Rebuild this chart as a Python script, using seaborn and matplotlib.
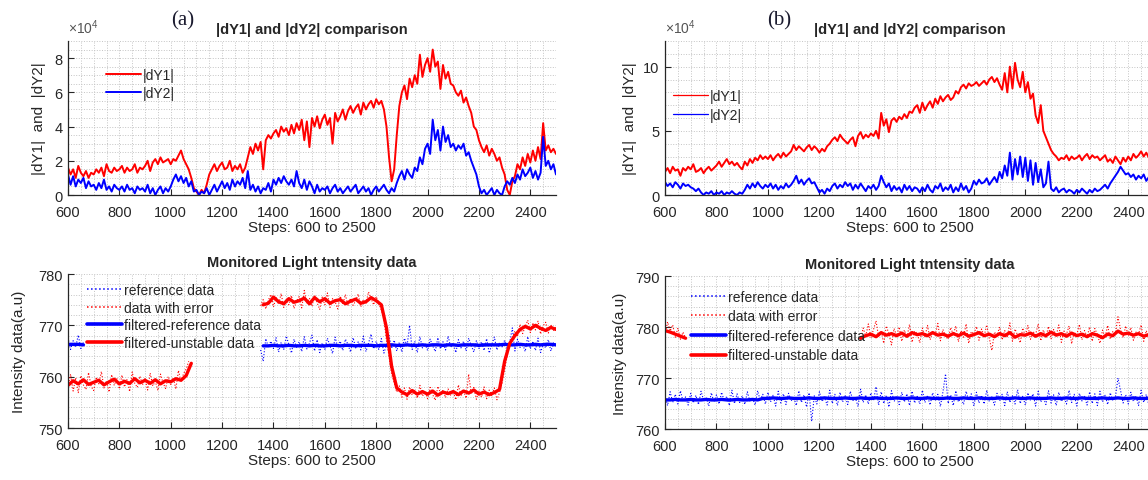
import numpy as np
import matplotlib
matplotlib.use("Agg")
import matplotlib.pyplot as plt
from matplotlib.lines import Line2D
from matplotlib.ticker import MultipleLocator
import seaborn as sns

nan = np.nan

# step axis
steps = np.arange(600, 2501, 10)     # raw / |dY| samples
steps_f = np.arange(600, 2501, 20)   # filtered curves

# ---------- (a) top: |dY1|, |dY2| in units of 1e4 ----------
dy1_a = [1.6, 1.2, 1.5, 1.0, 1.7, 1.3, 1.1, 1.4, 1.0, 1.3,
         1.2, 1.5, 1.3, 1.6, 1.1, 1.8, 1.4, 1.3, 1.6, 1.4,
         1.5, 1.7, 1.3, 1.6, 1.4, 1.5, 1.8, 1.3, 1.6, 1.5,
         1.7, 2.0, 1.4, 1.9, 2.1, 1.8, 2.2, 1.9, 2.0, 2.1,
         1.8, 2.1, 2.0, 2.3, 2.6, 2.1, 1.8, 1.5, 1.0, 0.4,
         0.2, 0.0, 0.3, 0.1, 0.6, 1.2, 1.5, 1.8, 1.4, 1.7,
         1.9, 1.5, 1.6, 2.0, 1.4, 1.7, 1.5, 1.8, 1.3, 1.6,
         2.2, 2.8, 2.4, 3.0, 2.6, 3.1, 1.5, 3.2, 3.5, 3.3,
         3.6, 3.8, 3.4, 4.0, 3.7, 3.9, 3.5, 4.1, 3.6, 4.2,
         3.8, 4.4, 3.2, 4.3, 2.8, 4.5, 4.0, 4.6, 3.9, 4.4,
         4.7, 4.1, 4.5, 3.0, 4.8, 4.3, 4.6, 5.0, 4.4, 4.9,
         5.2, 4.8, 5.1, 5.3, 4.7, 5.4, 5.0, 5.3, 5.5, 5.1,
         5.6, 5.3, 5.5, 5.0, 4.0, 2.2, 0.8, 1.5, 3.5, 5.2,
         6.0, 6.4, 5.6, 6.8, 6.3, 7.0, 6.5, 8.2, 6.9, 7.6,
         8.0, 7.2, 8.5, 7.5, 7.8, 6.2, 7.6, 6.8, 7.2, 6.5,
         6.4, 6.0, 5.8, 6.1, 5.4, 5.7, 5.2, 4.8, 4.0, 3.8,
         3.2, 2.8, 2.5, 2.9, 2.3, 2.7, 2.4, 2.0, 2.2, 1.6,
         1.2, 0.3, 0.0, 0.8, 1.1, 1.8, 1.5, 2.2, 1.7, 2.4,
         1.9, 2.6, 2.0, 2.8, 2.1, 4.2, 2.6, 2.9, 2.5, 2.7,
         2.4]
dy2_a = [1.2, 0.6, 1.1, 0.5, 0.9, 0.7, 1.0, 0.4, 0.8, 0.5,
         0.6, 0.3, 0.7, 0.4, 0.9, 0.3, 0.5, 0.2, 0.6, 0.4,
         0.3, 0.5, 0.2, 0.6, 0.3, 0.4, 0.1, 0.5, 0.3, 0.4,
         0.2, 0.6, 0.1, 0.4, 0.0, 0.3, 0.5, 0.1, 0.4, 0.2,
         0.5, 0.9, 1.2, 0.8, 1.1, 0.7, 1.0, 0.5, 0.8, 0.2,
         0.3, 0.0, 0.2, 0.1, 0.4, 0.0, 0.3, 0.6, 0.2, 0.5,
         0.8, 0.4, 0.7, 0.3, 0.9, 0.5, 0.8, 0.6, 1.0, 0.4,
         1.4, 0.3, 0.6, 0.2, 0.5, 0.1, 0.4, 0.3, 0.7, 0.2,
         0.9, 0.6, 1.0, 0.7, 1.1, 0.8, 0.6, 0.9, 0.5, 1.4,
         0.7, 0.4, 0.9, 0.3, 0.8, 0.5, 0.1, 0.6, 0.2, 0.4,
         0.3, 0.5, 0.1, 0.4, 0.6, 0.2, 0.4, 0.1, 0.3, 0.5,
         0.2, 0.4, 0.6, 0.1, 0.3, 0.5, 0.2, 0.4, 0.0, 0.3,
         0.5, 0.2, 0.4, 0.6, 0.3, 0.1, 0.4, 0.2, 0.7, 1.1,
         1.4, 0.9, 1.5, 1.2, 1.0, 1.6, 1.4, 2.2, 1.8, 2.7,
         3.0, 2.4, 4.4, 3.2, 3.8, 2.6, 4.0, 3.1, 3.5, 2.8,
         3.0, 2.6, 2.9, 2.7, 3.0, 2.3, 2.5, 2.0, 1.6, 1.2,
         0.5, 0.1, 0.3, 0.0, 0.2, 0.4, 0.0, 0.3, 0.1, 0.0,
         0.5, 0.8, 0.6, 1.0, 0.7, 1.2, 0.9, 1.5, 1.1, 1.3,
         1.6, 1.0, 1.4, 0.9, 1.3, 3.4, 1.7, 2.0, 1.5, 1.8,
         1.2]

# ---------- (b) top ----------
dy1_b = [1.8, 2.1, 1.7, 2.2, 1.9, 2.0, 1.5, 2.1, 1.9, 2.2,
         2.0, 2.4, 1.8, 1.9, 2.1, 1.7, 2.0, 2.2, 1.9, 2.1,
         2.3, 2.6, 2.2, 2.5, 2.8, 2.4, 2.6, 2.3, 2.5, 2.2,
         2.0, 2.6, 2.3, 2.8, 2.5, 2.9, 2.7, 3.1, 2.8, 3.0,
         2.8, 3.1, 2.7, 3.0, 3.2, 2.9, 3.3, 3.0, 3.2, 3.4,
         3.9, 3.5, 3.8, 3.6, 3.4, 3.7, 3.9, 3.5, 3.8, 3.6,
         3.3, 3.6, 3.4, 3.8, 4.0, 4.3, 4.5, 4.2, 4.7, 4.4,
         4.2, 4.0, 4.3, 4.5, 3.8, 4.6, 4.9, 4.4, 4.7, 4.5,
         4.8, 4.6, 5.0, 4.4, 6.4, 5.4, 5.9, 4.9, 5.8, 6.0,
         5.7, 6.1, 5.9, 6.3, 6.0, 6.5, 6.4, 6.8, 7.0, 6.4,
         7.2, 6.6, 7.0, 7.3, 6.8, 7.5, 7.1, 7.7, 7.3, 7.6,
         7.8, 7.4, 7.6, 8.1, 7.9, 8.4, 8.6, 8.3, 8.7, 8.5,
         8.6, 8.8, 8.5, 8.7, 8.9, 8.6, 9.0, 9.2, 8.8, 9.1,
         8.6, 8.2, 9.5, 8.0, 10.0, 8.3, 10.3, 9.0, 8.4, 9.6,
         8.0, 8.8, 7.5, 7.9, 6.2, 5.6, 7.0, 5.0, 4.5, 4.0,
         3.5, 3.2, 3.0, 2.7, 2.9, 2.8, 3.1, 2.7, 3.0, 2.8,
         2.9, 3.1, 2.7, 3.0, 3.2, 2.8, 3.1, 2.9, 3.0, 2.7,
         2.9, 3.1, 2.6, 2.8, 2.5, 3.0, 2.7, 2.4, 2.9, 2.6,
         3.0, 2.7, 3.2, 2.9, 3.1, 3.4, 3.0, 3.3, 2.9, 3.2,
         3.0]
dy2_b = [1.0, 0.7, 0.9, 0.6, 1.0, 0.8, 0.5, 0.9, 0.7, 0.8,
         0.6, 0.5, 0.3, 0.5, 0.2, 0.0, 0.2, 0.1, 0.3, 0.0,
         0.2, 0.1, 0.3, 0.0, 0.2, 0.1, 0.3, 0.1, 0.0, 0.2,
         0.1, 0.4, 0.8, 0.5, 0.9, 0.6, 1.0, 0.7, 0.5, 0.8,
         0.6, 0.9, 0.5, 0.8, 0.4, 0.7, 0.5, 0.9, 0.6, 0.8,
         1.1, 1.5, 0.9, 1.2, 0.8, 1.1, 1.3, 0.9, 1.0, 0.6,
         0.2, 0.4, 0.1, 0.5, 0.3, 0.7, 0.9, 0.5, 0.8, 0.6,
         1.0, 0.7, 0.9, 0.4, 0.8, 0.5, 0.9, 0.6, 0.3, 0.7,
         0.5, 0.8, 0.4, 0.7, 1.5, 1.0, 0.6, 0.9, 0.3, 0.7,
         0.4, 0.6, 0.2, 0.8, 0.4, 0.7, 0.3, 0.6, 0.5, 0.2,
         0.6, 0.3, 0.8, 0.4, 0.2, 0.7, 0.5, 0.9, 0.3, 0.6,
         0.4, 0.8, 0.2, 0.6, 0.3, 0.9, 0.4, 0.7, 0.2, 0.5,
         1.1, 0.8, 1.2, 0.9, 1.0, 1.3, 0.8, 1.1, 1.4, 1.0,
         1.8, 1.3, 2.3, 1.5, 3.3, 1.2, 2.8, 1.6, 3.0, 1.4,
         2.9, 1.1, 2.7, 0.8, 2.5, 1.0, 2.0, 0.6, 0.9, 2.6,
         0.5, 0.3, 0.6, 0.2, 0.4, 0.5, 0.2, 0.4, 0.3, 0.1,
         0.4, 0.2, 0.5, 0.3, 0.1, 0.4, 0.2, 0.5, 0.3, 0.4,
         0.6, 0.8, 0.5, 0.9, 1.2, 1.5, 1.8, 2.2, 1.9, 1.6,
         1.7, 1.4, 1.6, 1.2, 1.5, 1.3, 1.6, 1.1, 1.4, 1.2,
         1.3]

# ---------- (a) bottom: light intensity (a.u) ----------
ref_raw_a = ([767.6, 765.3, 767.0, 765.8, 768.1, 765.5, 766.7] + [nan] * 68 +
             [765.2, 763.0, 767.4, 765.8, 766.9,
              765.5, 767.6, 764.8, 766.7, 765.3, 767.9, 766.2, 764.6, 767.3, 765.7,
              766.8, 764.9, 767.8, 765.4, 766.5, 768.1, 765.0, 767.2, 764.7, 766.6,
              765.3, 767.5, 766.0, 764.5, 767.7, 765.8, 766.9, 765.1, 767.3, 766.3,
              764.8, 767.6, 765.6, 766.8, 765.2, 767.9, 764.9, 766.5, 768.3, 765.4,
              766.9, 765.3, 767.4, 764.6, 766.2, 768.0, 765.5, 767.1, 765.0, 766.7,
              764.8, 767.5, 765.9, 770.0, 765.3, 766.9, 764.7, 767.8, 765.6, 766.4,
              765.1, 767.3, 766.0, 764.9, 767.6, 765.4, 766.8, 765.2, 767.9, 765.7,
              766.5, 764.7, 767.2, 765.6, 766.9, 765.0, 767.5, 766.1, 764.8, 767.0,
              765.5, 766.8, 765.1, 767.4, 764.6, 766.3, 767.7, 765.2, 766.6, 765.8,
              767.1, 765.3, 766.7, 769.5, 765.0, 767.3, 765.7, 766.4, 764.9, 767.8,
              765.4, 766.9, 765.1, 767.5, 764.7, 766.3, 765.6, 767.2, 765.0, 766.6,
              765.8])
err_raw_a = ([758.0, 760.5, 757.2, 759.8, 756.9, 760.2, 758.4, 757.5, 760.8, 758.1,
              757.3, 759.9, 758.6, 761.0, 757.8, 759.2, 757.0, 760.4, 758.3, 759.7,
              757.6, 760.3, 758.0, 759.5, 757.1, 760.9, 758.7, 757.9, 760.1, 758.4,
              759.6, 757.4, 760.7, 758.2, 759.1, 757.3, 760.5, 758.8, 757.7, 760.0,
              758.5, 759.8, 757.6, 761.2, 759.0, 760.6, 761.5, 763.0] + [nan] * 27 +
             [773.8, 775.0, 773.2, 774.9, 776.0,
              773.6, 775.4, 774.1, 776.2, 773.5, 775.1, 774.0, 775.8, 773.3, 774.7,
              775.6, 773.4, 776.8, 774.2, 775.3, 773.7, 775.9, 774.4, 773.1, 775.5,
              774.0, 776.3, 773.5, 775.2, 774.6, 773.2, 775.7, 774.1, 776.0, 773.8,
              775.3, 773.9, 774.8, 776.1, 773.6, 775.0, 774.3, 776.5, 775.2, 774.0,
              775.6, 774.2, 773.0, 771.2, 767.0, 764.0, 760.5, 758.8, 757.0, 758.2,
              756.0, 757.8, 755.6, 758.0, 756.4, 757.5, 755.8, 758.3, 756.2, 757.1,
              755.7, 757.9, 756.5, 755.4, 758.1, 756.8, 757.3, 755.9, 757.6, 756.3,
              757.0, 755.5, 758.4, 756.2, 757.3, 755.8, 760.5, 756.6, 757.9, 755.6,
              757.2, 756.0, 758.0, 755.7, 757.4, 756.3, 757.8, 755.5, 756.9, 758.7,
              761.5, 764.0, 766.8, 767.5, 768.9, 767.8, 770.2, 768.4, 769.7, 771.0,
              768.6, 770.5, 769.1, 770.8, 768.3, 769.9, 770.6, 768.5, 770.1, 769.0,
              769.8])
ref_filt_a = ([766.3, 766.3, 766.3, 766.2] + [nan] * 34 +
              [766.0, 766.0, 766.1, 766.0, 766.0, 766.1, 766.0, 766.0, 766.1, 766.0,
               766.1, 766.0, 766.0, 766.1, 766.1, 766.0, 766.1, 766.1, 766.0, 766.1,
               766.1, 766.1, 766.0, 766.1, 766.1, 766.2, 766.1, 766.1, 766.2, 766.1,
               766.1, 766.2, 766.1, 766.2, 766.2, 766.1, 766.2, 766.2, 766.1, 766.2,
               766.2, 766.2, 766.1, 766.2, 766.2, 766.2, 766.2, 766.3, 766.2, 766.2,
               766.3, 766.2, 766.2, 766.3, 766.2, 766.3, 766.3, 766.2])
unst_filt_a = ([758.3, 759.2, 758.6, 759.4, 758.5,
                758.9, 759.3, 758.4, 759.0, 759.5,
                758.6, 759.1, 758.7, 759.6, 758.8,
                759.3, 758.7, 759.4, 758.6, 759.2,
                759.0, 759.6, 759.3, 760.2, 762.6] + [nan] * 13 +
               [774.0, 774.3,
                775.5, 774.6, 774.2, 775.2, 774.5,
                774.8, 775.3, 774.2, 775.4, 774.6,
                775.2, 774.3, 774.8, 775.0, 774.2,
                774.7, 775.1, 774.3, 774.6, 775.4,
                774.8, 774.0, 769.5, 762.0, 757.8,
                757.0, 756.5, 757.3, 756.6, 757.1,
                756.6, 757.2, 756.4, 757.0, 756.7,
                757.1, 756.5, 757.2, 756.8, 757.4,
                756.6, 757.0, 756.5, 756.9, 757.5,
                763.0, 766.5, 768.0, 769.2, 769.8,
                769.3, 770.0, 769.4, 769.0, 769.6,
                769.2])

# ---------- (b) bottom ----------
ref_raw_b = [766.5, 764.6, 767.3, 765.2, 766.8, 764.9, 767.5, 765.4, 766.3, 764.7,
             767.0, 765.1, 766.6, 764.8, 767.4, 765.6, 766.2, 764.5, 767.1, 765.3,
             766.7, 764.9, 767.2, 765.5, 766.4, 764.6, 767.6, 765.0, 766.9, 765.2,
             766.5, 764.8, 767.3, 765.4, 766.1, 764.7, 767.5, 765.6, 766.8, 764.9,
             767.2, 765.3, 766.6, 764.5, 767.4, 765.1, 766.9, 764.8, 767.0, 765.5,
             766.3, 764.6, 767.5, 765.2, 766.7, 764.3, 767.1, 761.5, 766.5, 764.9,
             767.3, 765.4, 766.2, 764.7, 767.6, 765.0, 766.8, 764.6, 767.2, 765.3,
             766.5, 764.8, 767.4, 765.6, 766.1, 764.4, 767.8, 765.2, 766.7, 764.9,
             767.1, 765.5, 768.3, 764.7, 767.3, 765.0, 766.6, 764.3, 767.5, 765.4,
             766.2, 764.8, 767.2, 765.3, 766.9, 764.6, 767.4, 765.1, 766.4, 764.9,
             767.6, 765.2, 766.5, 764.7, 767.1, 765.5, 766.8, 764.4, 767.3, 770.8,
             765.0, 766.7, 764.6, 767.5, 765.3, 766.2, 764.8, 767.4, 765.6, 766.9,
             764.5, 767.2, 765.1, 766.6, 764.9, 767.6, 765.4, 766.3, 764.7, 767.0,
             765.5, 766.8, 764.6, 767.3, 765.2, 766.5, 764.9, 767.7, 765.0, 766.4,
             764.7, 767.1, 765.6, 766.9, 764.5, 767.4, 765.3, 766.2, 764.8, 767.5,
             765.1, 766.7, 764.6, 767.2, 765.4, 766.3, 764.9, 767.6, 765.2, 766.8,
             764.5, 767.0, 765.5, 766.4, 764.7, 767.3, 765.0, 766.9, 764.6, 767.4,
             765.3, 766.6, 764.8, 767.1, 765.6, 766.2, 770.0, 767.5, 765.1, 766.7,
             764.9, 767.2, 765.4, 766.5, 764.6, 767.6, 765.2, 766.8, 764.7, 767.0,
             765.5]
err_raw_b = ([778.5, 781.0, 779.2, 780.4, 778.0, 779.8, 777.6, 779.0, 777.8] + [nan] * 67 +
             [777.5, 779.8, 778.2, 780.6,
              777.9, 779.5, 781.2, 778.0, 779.1, 776.8, 780.2, 778.6, 776.5, 779.7,
              778.3, 780.0, 777.2, 779.4, 778.0, 780.5, 777.0, 779.2, 778.7, 776.9,
              779.8, 778.1, 780.3, 777.5, 779.0, 778.4, 780.7, 777.3, 779.5, 778.2,
              777.6, 779.9, 778.5, 780.2, 777.1, 779.3, 778.0, 780.6, 776.8, 779.1,
              778.6, 780.1, 777.4, 779.6, 778.2, 780.4, 777.8, 775.4, 779.0, 778.3,
              780.0, 777.5, 779.3, 778.1, 780.8, 777.2, 779.6, 778.4, 776.9, 779.8,
              778.2, 780.3, 777.6, 779.1, 778.5, 780.6, 777.3, 779.4, 778.0, 780.1,
              777.7, 779.5, 778.3, 780.4, 777.0, 779.2, 778.6, 780.2, 776.7, 779.0,
              778.4, 780.5, 777.5, 779.3, 778.1, 780.0, 777.2, 779.7, 778.5, 776.8,
              779.4, 778.0, 780.3, 777.6, 779.1, 778.7, 782.0, 779.5, 777.9, 780.2,
              778.3, 779.9, 777.4, 779.0, 778.6, 780.4, 777.2, 779.3, 777.8, 779.6,
              778.0])
ref_filt_b = [765.7, 765.7, 765.8, 765.7, 765.7, 765.8, 765.7, 765.7, 765.8, 765.7,
              765.7, 765.8, 765.7, 765.7, 765.8, 765.7, 765.7, 765.8, 765.7,
              766.0, 766.0, 766.1, 766.0, 766.0, 766.1, 766.0, 766.0, 766.0, 766.1,
              766.0, 766.0, 766.1, 766.0, 766.0, 766.0, 766.1, 766.0, 766.0, 766.1,
              766.0, 766.0, 766.1, 766.0, 766.0, 766.0, 766.1, 766.0, 766.0, 766.1,
              766.0, 766.0, 766.1, 766.0, 766.0, 766.0, 766.1, 766.0, 766.0, 766.1,
              766.0, 766.0, 766.1, 766.0, 766.0, 766.0, 766.1, 766.0, 766.0, 766.1,
              766.0, 766.0, 766.1, 766.0, 766.0, 766.0, 766.1, 766.0, 766.0, 766.1,
              766.0, 766.0, 766.1, 766.0, 766.0, 766.0, 766.1, 766.0, 766.0, 766.1,
              766.0, 766.0, 766.1, 766.0, 766.0, 766.0, 766.1]
unst_filt_b = ([779.3, 779.0, 778.6, 778.2, 777.8] + [nan] * 33 +
               [777.8, 778.3,
                778.6, 778.1, 778.9, 778.4, 778.7,
                778.3, 778.8, 778.2, 778.9, 778.5,
                778.7, 778.3, 778.9, 778.4, 778.6,
                778.2, 778.7, 778.3, 778.8, 778.2,
                778.5, 778.9, 778.3, 778.6, 778.1,
                778.7, 778.3, 778.9, 778.0, 778.5,
                778.4, 778.8, 778.2, 778.7, 778.3,
                779.0, 778.4, 778.7, 778.2, 778.8,
                778.3, 778.6, 778.1, 778.7, 778.4,
                777.9, 778.6, 778.3, 779.2, 778.6,
                778.8, 778.4, 778.7, 778.2, 778.5,
                778.3])

RED = "#ff0000"
BLUE = "#0000ff"
INK = "#262626"

sns.set_theme(style="white")
plt.rcParams["font.family"] = ["Liberation Sans", "DejaVu Sans"]
plt.rcParams["mathtext.fontset"] = "custom"
plt.rcParams["mathtext.rm"] = "Liberation Sans"
plt.rcParams["mathtext.it"] = "Liberation Sans"


def draw(ax, x, y, color, lw, ls="-"):
    # seaborn line per contiguous run, gaps (nan) left open
    x = np.asarray(x)
    y = np.asarray(y, dtype=float)
    idx = np.flatnonzero(~np.isnan(y))
    for run in np.split(idx, np.flatnonzero(np.diff(idx) > 1) + 1):
        if len(run) < 2:
            continue
        sns.lineplot(x=x[run], y=y[run], ax=ax, color=color, linewidth=lw,
                     linestyle=ls, estimator=None, sort=False, legend=False)


def style(ax, ylim, ymajor, yminor, title, ylabel, ylab_x):
    ax.set_xlim(600, 2500)
    ax.set_ylim(*ylim)
    ax.xaxis.set_major_locator(MultipleLocator(200))
    ax.xaxis.set_minor_locator(MultipleLocator(50))
    ax.yaxis.set_major_locator(MultipleLocator(ymajor))
    ax.yaxis.set_minor_locator(MultipleLocator(yminor))
    ax.grid(which="both", linestyle=":", color="#c4c4c4", linewidth=0.7)
    ax.set_axisbelow(True)
    for s in ["top", "right"]:
        ax.spines[s].set_visible(False)
    for s in ["left", "bottom"]:
        ax.spines[s].set_color(INK)
        ax.spines[s].set_linewidth(0.9)
    ax.tick_params(axis="both", which="major", direction="in", length=4,
                   width=0.8, colors=INK, labelsize=10.5, left=True, bottom=True)
    ax.tick_params(axis="x", which="major", pad=7)
    ax.tick_params(axis="y", which="major", pad=4)
    ax.tick_params(which="minor", length=0)
    ax.set_title(title, fontsize=10.5, fontweight="bold", pad=5.5)
    ax.set_xlabel("Steps: 600 to 2500", fontsize=11, color=INK, labelpad=1)
    ax.set_ylabel(ylabel, fontsize=11, color=INK)
    ax.yaxis.set_label_coords(ylab_x, 0.5)


def legend(ax, items, x, y, spacing):
    handles = [Line2D([], [], color=c, linewidth=w, linestyle=s) for c, w, s, _ in items]
    ax.legend(handles, [t for *_, t in items], loc="upper left",
              bbox_to_anchor=(x, y), frameon=False, fontsize=10,
              borderpad=0, borderaxespad=0, handlelength=2.5,
              handletextpad=0.15, labelspacing=spacing)


W, H = 1148, 481
fig = plt.figure(figsize=(W / 100, H / 100), dpi=100)
fig.patch.set_facecolor("white")


def rect(left, top, right, bottom):
    return [left / W, 1 - bottom / H, (right - left) / W, (bottom - top) / H]


ax_a1 = fig.add_axes(rect(68, 42, 556, 196))
ax_b1 = fig.add_axes(rect(665, 42, 1154, 196))
ax_a2 = fig.add_axes(rect(68, 275, 556, 429))
ax_b2 = fig.add_axes(rect(665, 277, 1154, 430))

# top panels
draw(ax_a1, steps, dy1_a, RED, 1.4)
draw(ax_a1, steps, dy2_a, BLUE, 1.4)
draw(ax_b1, steps, dy1_b, RED, 1.4)
draw(ax_b1, steps, dy2_b, BLUE, 1.4)

# bottom panels
for ax, rr, er, rf, uf in [(ax_a2, ref_raw_a, err_raw_a, ref_filt_a, unst_filt_a),
                           (ax_b2, ref_raw_b, err_raw_b, ref_filt_b, unst_filt_b)]:
    draw(ax, steps, rr, BLUE, 0.8, ":")
    draw(ax, steps, er, RED, 0.8, ":")
    draw(ax, steps_f, rf, BLUE, 2.4)
    draw(ax, steps_f, uf, RED, 2.4)

comp = "|dY1| and |dY2| comparison"
mon = "Monitored Light tntensity data"
style(ax_a1, (0, 9), 2, 0.5, comp, "|dY1|  and  |dY2|", -0.045)
style(ax_b1, (0, 12), 5, 1, comp, "|dY1|  and  |dY2|", -0.058)
style(ax_a2, (750, 780), 10, 2, mon, "Intensity data(a.u)", -0.086)
style(ax_b2, (760, 790), 10, 2, mon, "Intensity data(a.u)", -0.078)

for ax in (ax_a1, ax_b1):
    ax.text(0.0, 1.03, r"$\times10^{4}$", transform=ax.transAxes, fontsize=10,
            color="#555555", ha="left", va="bottom")

legend(ax_a1, [(RED, 1.4, "-", "|dY1|"), (BLUE, 1.4, "-", "|dY2|")], 0.078, 0.825, 0.3)
legend(ax_b1, [(RED, 0.9, "-", "|dY1|"), (BLUE, 0.9, "-", "|dY2|")], 0.016, 0.69, 0.4)
bottom_items = [(BLUE, 1.1, ":", "reference data"), (RED, 1.1, ":", "data with error"),
                (BLUE, 2.6, "-", "filtered-reference data"), (RED, 2.6, "-", "filtered-unstable data")]
legend(ax_a2, bottom_items, 0.039, 0.94, 0.25)
legend(ax_b2, bottom_items, 0.053, 0.91, 0.4)

# panel tags
fig.text(171 / W, 1 - 21 / H, "(a)", fontsize=15, family="Liberation Serif",
         color="#1a1a2e", va="center", ha="left")
fig.text(767 / W, 1 - 21 / H, "(b)", fontsize=15, family="Liberation Serif",
         color="#1a1a2e", va="center", ha="left")

fig.savefig("out.png", dpi=100, facecolor="white")
